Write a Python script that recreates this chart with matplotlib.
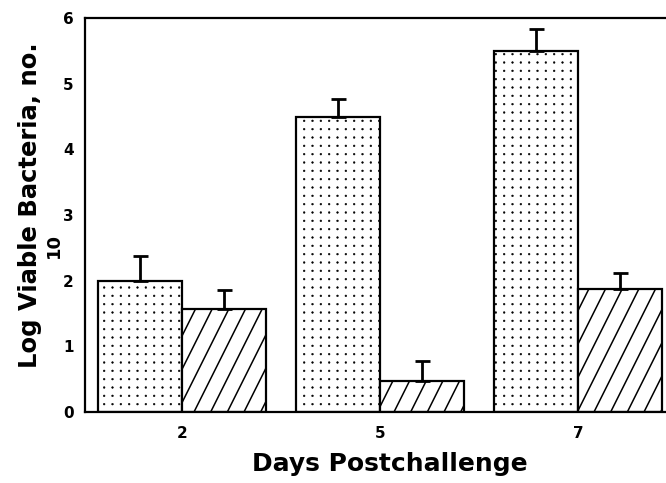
import matplotlib
matplotlib.use("Agg")
import matplotlib.pyplot as plt
import matplotlib.hatch as mhatch
from matplotlib.path import Path
import numpy as np

categories = ["2", "5", "7"]
dotted_vals = [2.0, 4.49, 5.49]
dotted_err = [0.37, 0.27, 0.34]
hatched_vals = [1.57, 0.47, 1.88]
hatched_err = [0.29, 0.31, 0.24]
yticks = [0, 1, 2, 3, 4, 5, 6]


# --- custom hatch styles: square dot grid and steep diagonal lines ---
class GridDots(mhatch.HatchPatternBase):
    size = 0.1

    def __init__(self, hatch, density):
        self.num_rows = hatch.count('.') * density
        path = Path.unit_circle()
        self.shape_vertices = path.vertices
        self.shape_codes = path.codes
        self.num_vertices = self.num_rows ** 2 * len(self.shape_vertices)

    def set_vertices_and_codes(self, vertices, codes):
        if not self.num_rows:
            return
        offset = 1.0 / self.num_rows
        sv = self.shape_vertices * offset * self.size
        n = len(sv)
        cur = 0
        for r in range(self.num_rows):
            for c in range(self.num_rows):
                vertices[cur:cur + n] = sv + [(c + 0.5) * offset, (r + 0.5) * offset]
                codes[cur:cur + n] = self.shape_codes
                cur += n


class SteepHatch(mhatch.HatchPatternBase):
    def __init__(self, hatch, density):
        self.n = hatch.count('/') * density
        if self.n:
            self.starts = np.arange(-self.n // 2, self.n + 1) / self.n
            self.num_vertices = len(self.starts) * 2
        else:
            self.num_vertices = 0

    def set_vertices_and_codes(self, vertices, codes):
        vertices[0::2, 0] = self.starts
        vertices[0::2, 1] = 0.0
        vertices[1::2, 0] = self.starts + 0.5
        vertices[1::2, 1] = 1.0
        codes[0::2] = Path.MOVETO
        codes[1::2] = Path.LINETO


mhatch._hatch_types[:] = [t for t in mhatch._hatch_types
                          if t not in (mhatch.NorthEastHatch, mhatch.SmallFilledCircles)]
mhatch._hatch_types.append(GridDots)
mhatch._hatch_types.append(SteepHatch)

fig = plt.figure(figsize=(6.66, 4.83), dpi=100)
ax = fig.add_axes([85/666, 71/483, 580/666, 394/483])

x = np.arange(len(categories))
w = 0.424
with plt.rc_context({'hatch.linewidth': 0.4}):
    b1 = ax.bar(x - w/2, dotted_vals, w, color='white', edgecolor='black',
                hatch='..', linewidth=1.6)
with plt.rc_context({'hatch.linewidth': 1.1}):
    b2 = ax.bar(x + w/2, hatched_vals, w, color='white', edgecolor='black',
                hatch='/', linewidth=1.6)
for bars, lw in ((b1, 0.4), (b2, 1.1)):
    for p in bars:
        try:
            p.set_hatch_linewidth(lw)
        except AttributeError:
            pass

ax.errorbar(x - w/2, dotted_vals, yerr=[np.zeros(3), dotted_err], fmt='none',
            ecolor='black', elinewidth=2, capsize=5.4, capthick=2)
ax.errorbar(x + w/2, hatched_vals, yerr=[np.zeros(3), hatched_err], fmt='none',
            ecolor='black', elinewidth=2, capsize=5.4, capthick=2)

ax.set_xlim(-0.49, 2.44)
ax.set_ylim(0, 6)
ax.set_xticks(x)
ax.set_xticklabels(categories)
ax.set_yticks(yticks)
ax.tick_params(length=0, labelsize=11, pad=8)
for lab in ax.get_xticklabels() + ax.get_yticklabels():
    lab.set_fontweight('heavy')
    lab.set_family('DejaVu Sans')
ax.tick_params(axis='x', pad=10)
for s in ax.spines.values():
    s.set_linewidth(1.6)
ax.spines['right'].set_visible(False)

fig.text(390/666, 1 - 464/483, "Days Postchallenge", fontsize=18,
         fontweight='bold', family='DejaVu Sans', ha='center', va='center')
fig.text(30/666, 1 - 205/483, "Log Viable Bacteria, no.", rotation=90,
         fontsize=17.5, fontweight='bold', family='DejaVu Sans',
         ha='center', va='center')
fig.text(54/666, 1 - 246/483, "10", rotation=90,
         fontsize=13, fontweight='bold', family='DejaVu Sans',
         ha='center', va='center')

fig.savefig("out.png", dpi=100)
